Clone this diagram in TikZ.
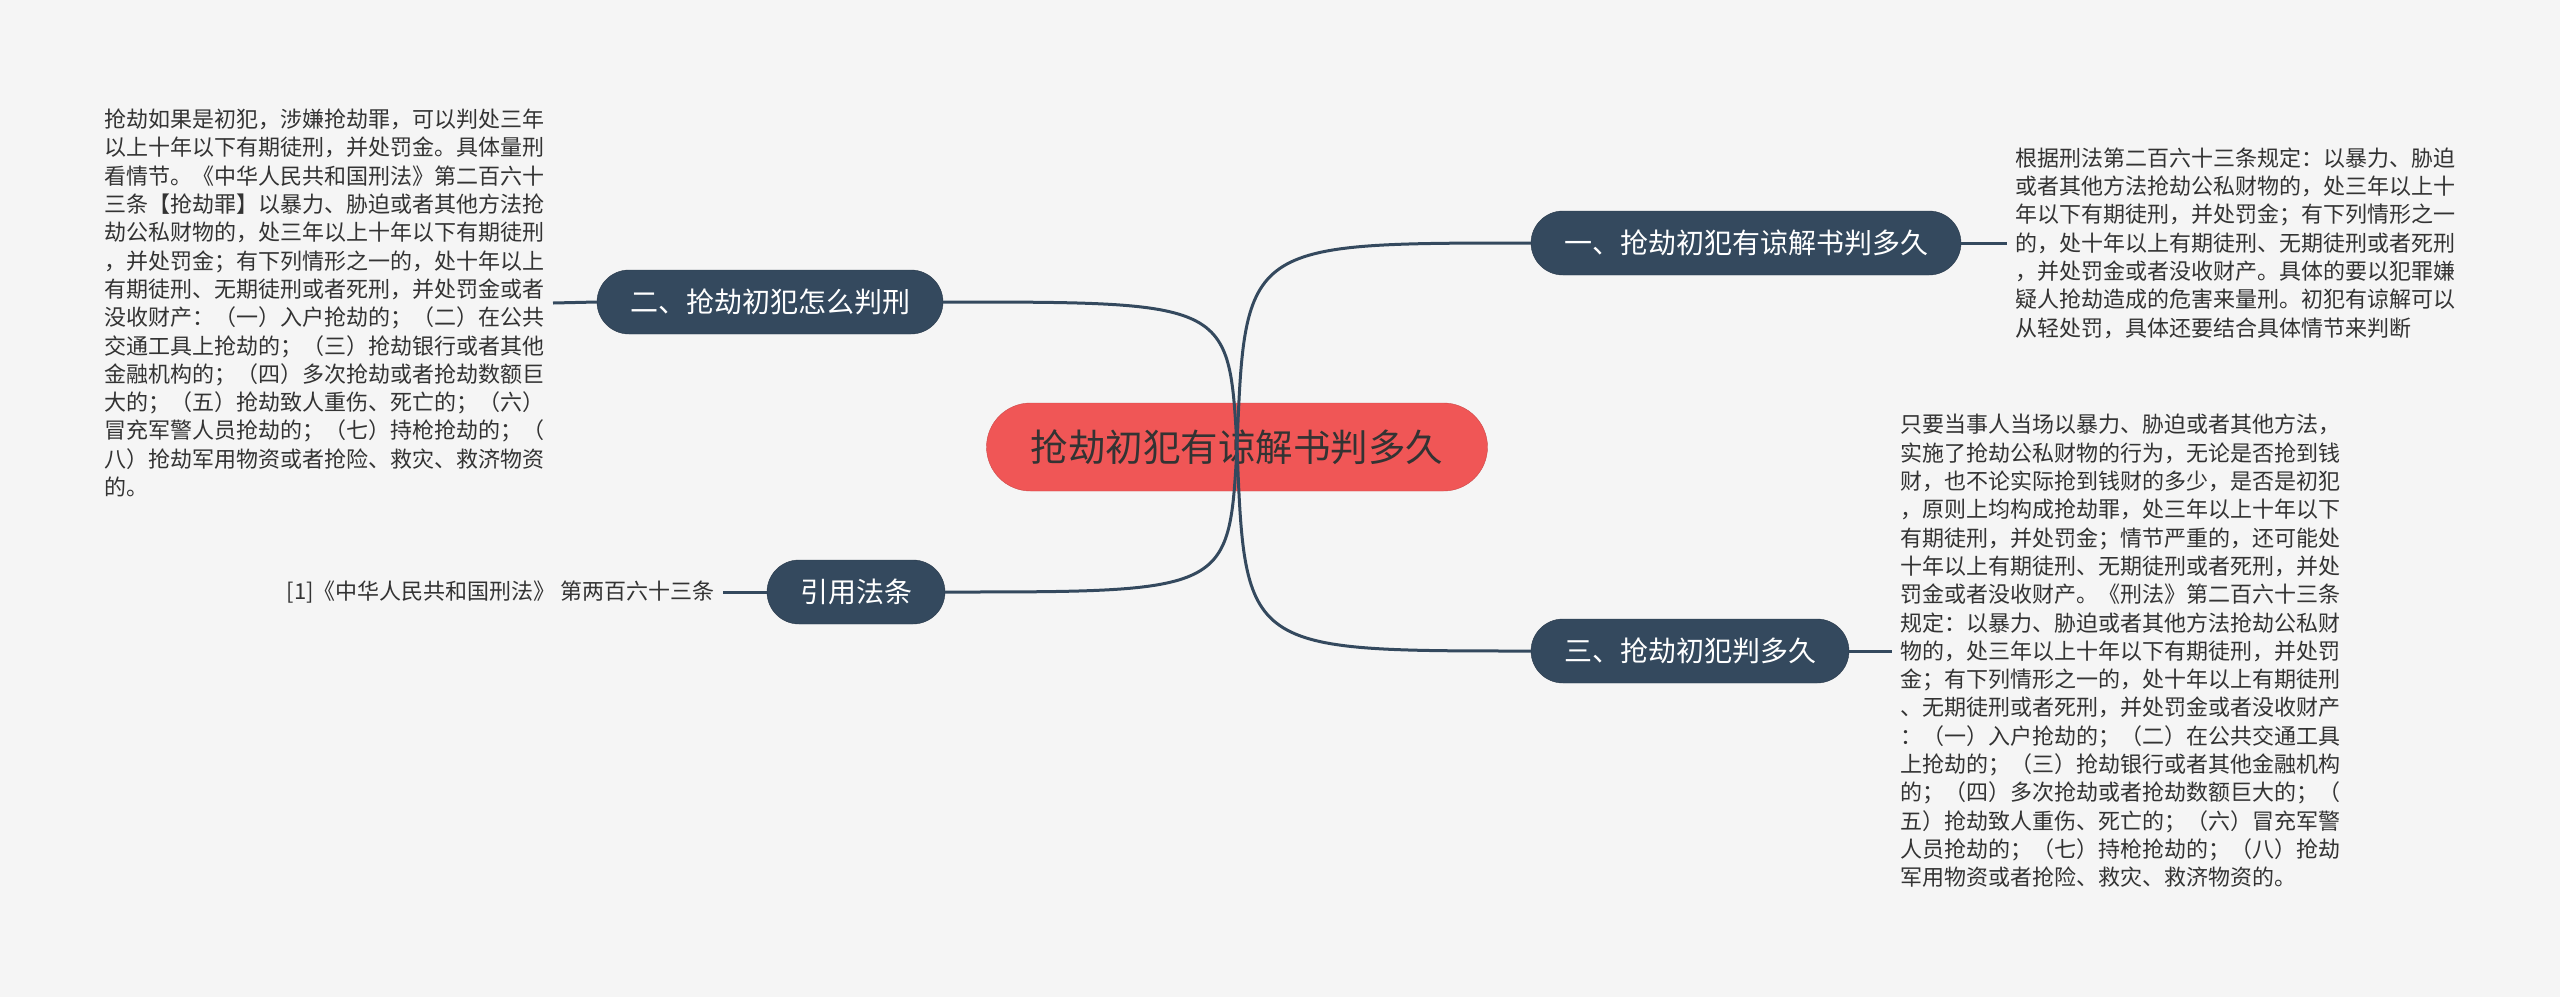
\documentclass[tikz,border=0pt]{standalone}
\usepackage{fontspec}
\setmainfont{Noto Sans CJK SC}
\usepackage{tikz}
\usetikzlibrary{calc}
\usetikzlibrary{positioning}

\definecolor{bgcol}{HTML}{F5F5F5}
\definecolor{navy}{HTML}{34495E}
\definecolor{rootred}{HTML}{F05656}
\definecolor{inkgray}{HTML}{333333}

\begin{document}
\begin{tikzpicture}[x=1pt,y=-1pt,
        root/.style={draw=rootred!85!black,fill=rootred,rounded corners=44pt,
            minimum height=88pt,minimum width=501pt,text=inkgray,
            font=\fontsize{37.5}{42}\selectfont},
        topic/.style={draw=navy!80!black,fill=navy,rounded corners=32pt,
            minimum height=64pt,inner xsep=33pt,text=white,
            font=\fontsize{28}{34}\selectfont},
        note/.style={align=left,inner sep=8pt,text=inkgray,
            font=\fontsize{22}{28.3}\selectfont},
        link/.style={draw=navy,line width=3pt}]

        \fill[bgcol] (0,0) rectangle (2560,997);
        \useasboundingbox (0,0) rectangle (2560,997);

        \node[root] (root) at (1237,447) {抢劫初犯有谅解书判多久};

        \node[topic] (one) at (1746,243) {一、抢劫初犯有谅解书判多久};
        \node[topic] (two) at (770,302) {二、抢劫初犯怎么判刑};
        \node[topic] (three) at (1690,651) {三、抢劫初犯判多久};
        \node[topic] (cite) at (856,592) {引用法条};

        \node[note,anchor=west] (onetext) at (2007,243) {根据刑法第二百六十三条规定：以暴力、胁迫\\或者其他方法抢劫公私财物的，处三年以上十\\年以下有期徒刑，并处罚金；有下列情形之一\\的，处十年以上有期徒刑、无期徒刑或者死刑\\，并处罚金或者没收财产。具体的要以犯罪嫌\\疑人抢劫造成的危害来量刑。初犯有谅解可以\\从轻处罚，具体还要结合具体情节来判断};

        \node[note,anchor=east] (twotext) at (553,303) {抢劫如果是初犯，涉嫌抢劫罪，可以判处三年\\以上十年以下有期徒刑，并处罚金。具体量刑\\看情节。《中华人民共和国刑法》第二百六十\\三条【抢劫罪】以暴力、胁迫或者其他方法抢\\劫公私财物的，处三年以上十年以下有期徒刑\\，并处罚金；有下列情形之一的，处十年以上\\有期徒刑、无期徒刑或者死刑，并处罚金或者\\没收财产：（一）入户抢劫的；（二）在公共\\交通工具上抢劫的；（三）抢劫银行或者其他\\金融机构的；（四）多次抢劫或者抢劫数额巨\\大的；（五）抢劫致人重伤、死亡的；（六）\\冒充军警人员抢劫的；（七）持枪抢劫的；（\\八）抢劫军用物资或者抢险、救灾、救济物资\\的。};

        \node[note,anchor=west] (threetext) at (1892,651) {只要当事人当场以暴力、胁迫或者其他方法，\\实施了抢劫公私财物的行为，无论是否抢到钱\\财，也不论实际抢到钱财的多少，是否是初犯\\，原则上均构成抢劫罪，处三年以上十年以下\\有期徒刑，并处罚金；情节严重的，还可能处\\十年以上有期徒刑、无期徒刑或者死刑，并处\\罚金或者没收财产。《刑法》第二百六十三条\\规定：以暴力、胁迫或者其他方法抢劫公私财\\物的，处三年以上十年以下有期徒刑，并处罚\\金；有下列情形之一的，处十年以上有期徒刑\\、无期徒刑或者死刑，并处罚金或者没收财产\\：（一）入户抢劫的；（二）在公共交通工具\\上抢劫的；（三）抢劫银行或者其他金融机构\\的；（四）多次抢劫或者抢劫数额巨大的；（\\五）抢劫致人重伤、死亡的；（六）冒充军警\\人员抢劫的；（七）持枪抢劫的；（八）抢劫\\军用物资或者抢险、救灾、救济物资的。};

        \node[note,anchor=east] (citetext) at (723,592) {[1]《中华人民共和国刑法》 第两百六十三条};

        % branches from the root
        \draw[link] (root.center) .. controls ($(root.center |- one.west)+(8,0)$) .. (one.west);
        \draw[link] (root.center) .. controls ($(root.center |- two.east)+(-8,0)$) .. (two.east);
        \draw[link] (root.center) .. controls ($(root.center |- three.west)+(8,0)$) .. (three.west);
        \draw[link] (root.center) .. controls ($(root.center |- cite.east)+(-8,0)$) .. (cite.east);

        % leaves
        \draw[link] (one.east) -- (onetext.west);
        \draw[link] (two.west) -- (twotext.east);
        \draw[link] (three.east) -- (threetext.west);
        \draw[link] (cite.west) -- (citetext.east);
    \end{tikzpicture}
\end{document}
